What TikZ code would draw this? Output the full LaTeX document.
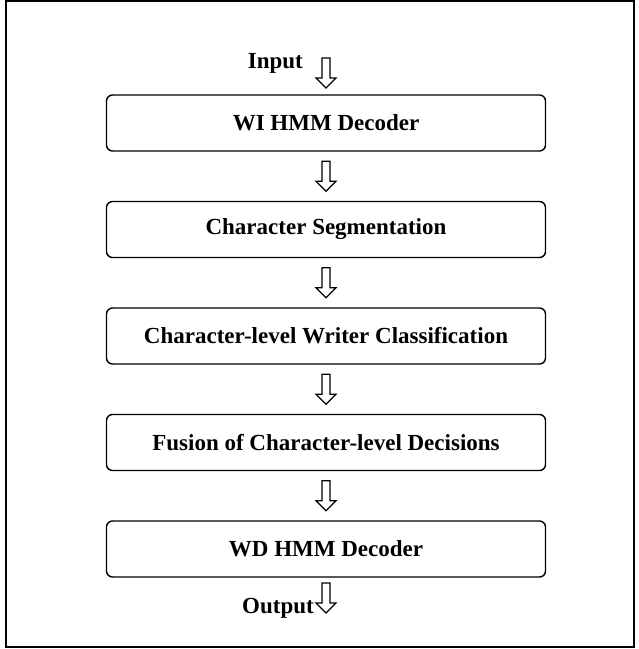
\documentclass[tikz,border=0pt]{standalone}
\usepackage{fontspec}
\setmainfont{Liberation Serif}
\usetikzlibrary{calc}

\tikzset{hollowdown/.pic={%
  \draw[line width=1.2pt, fill=white] (-4,-15) -- (4,-15) -- (4,5) -- (10,5) -- (0,15) -- (-10,5) -- (-4,5) -- cycle;%
}}

\begin{document}
\begin{tikzpicture}[x=1pt,y=-1pt,
  stagebox/.style={draw, line width=1.4pt, rounded corners=6pt, minimum width=439pt, minimum height=56pt, text centered, font=\fontsize{23}{27}\selectfont\bfseries},
  tagtext/.style={font=\fontsize{23}{27}\selectfont\bfseries, inner sep=0pt}]%
\useasboundingbox (0,0) rectangle (639,649);%
\draw[line width=1.6pt] (6,1) rectangle (634,647);%
% processing stages
\node[stagebox] (wihmm) at (326,123) {WI HMM Decoder};%
\node[stagebox] (charseg) at (326,229.5) {Character Segmentation};%
\node[stagebox] (charcls) at (326,336) {Character-level Writer Classification};%
\node[stagebox] (fusion) at (326,442.5) {Fusion of Character-level Decisions};%
\node[stagebox] (wdhmm) at (326,549) {WD HMM Decoder};%
% arrows between stages
\pic at ($(wihmm.south)!0.5!(charseg.north)$) {hollowdown};%
\pic at ($(charseg.south)!0.5!(charcls.north)$) {hollowdown};%
\pic at ($(charcls.south)!0.5!(fusion.north)$) {hollowdown};%
\pic at ($(fusion.south)!0.5!(wdhmm.north)$) {hollowdown};%
% input and output
\coordinate (inarrow) at (326,73);%
\pic at (inarrow) {hollowdown};%
\node[tagtext, anchor=east] (input) at (303,63) {Input};%
\coordinate (outarrow) at (326,598);%
\pic at (outarrow) {hollowdown};%
\node[tagtext, anchor=east] (output) at (314,608) {Output};%
\end{tikzpicture}
\end{document}
